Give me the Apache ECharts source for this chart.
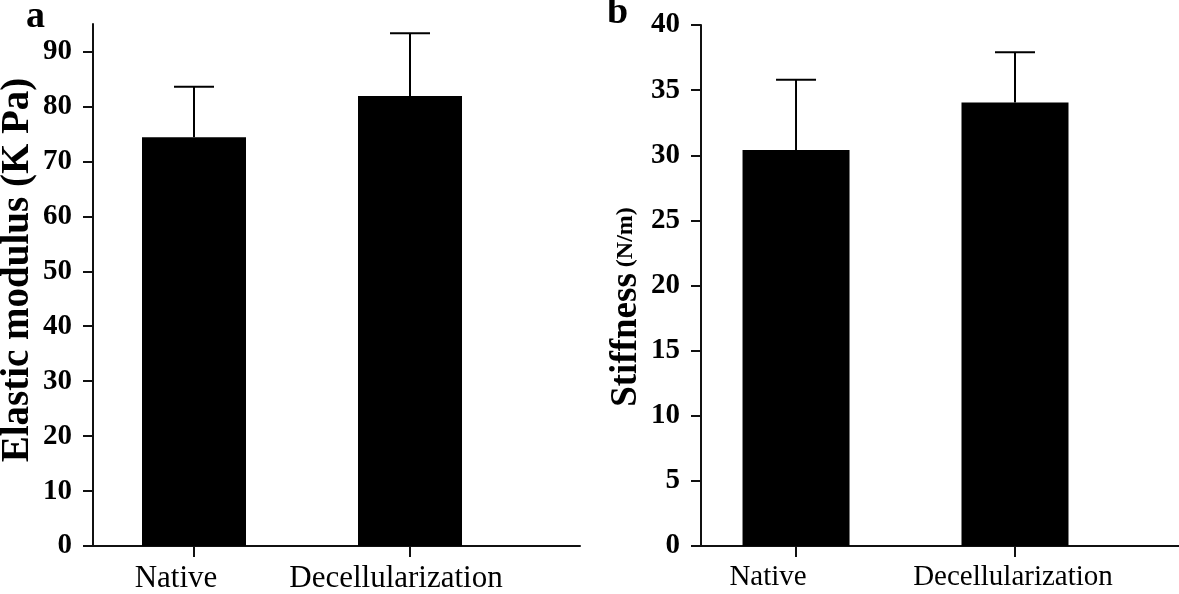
<!DOCTYPE html>
<html>
<head>
<meta charset="utf-8">
<script src="https://cdn.jsdelivr.net/npm/echarts@6/dist/echarts.min.js"></script>
<style>
html,body{margin:0;padding:0;background:#fff;}
#chart{width:1179px;height:594px;}
</style>
</head>
<body>
<div id="chart"></div>
<script>
// ---- data ----
const categories = ['Native', 'Decellularization'];
const elasticMean = [74.4, 81.9];
const elasticErr = [9.2, 11.4];
const stiffMean = [30.4, 34.05];
const stiffErr = [5.4, 3.85];
const elasticTicks = [0, 10, 20, 30, 40, 50, 60, 70, 80, 90];
const stiffTicks = [0, 5, 10, 15, 20, 25, 30, 35, 40];

const FONT = 'Liberation Serif';
const chart = echarts.init(document.getElementById('chart'), null, {renderer: 'canvas'});

function barData(means) { return means.map((m, i) => [i, m]); }
function errData(means, errs) { return means.map((m, i) => [i, m, m + errs[i]]); }

function errItem(params, api) {
  const x = api.value(0), m = api.value(1), t = api.value(2);
  const base = api.coord([x, m]);
  const top = api.coord([x, t]);
  const hw = 20;
  return {
    type: 'group',
    children: [
      {type: 'line', shape: {x1: base[0], y1: base[1], x2: top[0], y2: top[1]}, style: {stroke: '#000', lineWidth: 2}},
      {type: 'line', shape: {x1: top[0] - hw, y1: top[1], x2: top[0] + hw, y2: top[1]}, style: {stroke: '#000', lineWidth: 2}}
    ]
  };
}

const lineStyle = {color: '#111', width: 2};

function xAxisCfg(gridIndex, min, max, fontSize, richPads) {
  const rich = {};
  richPads.forEach((p, i) => {
    rich['c' + i] = {fontFamily: FONT, fontSize: fontSize, color: '#000', padding: p};
  });
  return {
    type: 'value', gridIndex: gridIndex, min: min, max: max,
    splitLine: {show: false},
    axisLine: {show: true, onZero: false, lineStyle: lineStyle},
    axisTick: {show: true, customValues: categories.map((c, i) => i), length: 11, lineStyle: lineStyle},
    axisLabel: {
      customValues: categories.map((c, i) => i),
      margin: 17,
      formatter: v => '{c' + Math.round(v) + '|' + categories[Math.round(v)] + '}',
      rich: rich
    }
  };
}

function yAxisCfg(gridIndex, max, ticks) {
  return {
    type: 'value', gridIndex: gridIndex, min: 0, max: max, interval: ticks[1] - ticks[0],
    splitLine: {show: false},
    axisLine: {show: true, onZero: false, lineStyle: lineStyle},
    axisTick: {show: true, customValues: ticks, length: 10, lineStyle: lineStyle},
    axisLabel: {
      customValues: ticks, margin: 21,
      fontFamily: FONT, fontWeight: 'bold', fontSize: 29, color: '#000'
    }
  };
}

const option = {
  backgroundColor: '#fff',
  animation: false,
  grid: [
    {left: 93, top: 24, width: 487, height: 522, outerBoundsMode: 'none'},
    {left: 701, top: 25, width: 478, height: 521, outerBoundsMode: 'none'}
  ],
  xAxis: [
    xAxisCfg(0, -0.4676, 1.787, 31, [[0, 36, 0, 0], [0, 28, 0, 0]]),
    xAxisCfg(1, -0.434, 1.749, 29, [[0, 56, 0, 0], [0, 4, 0, 0]])
  ],
  yAxis: [
    yAxisCfg(0, 95, elasticTicks),
    yAxisCfg(1, 40, stiffTicks)
  ],
  graphic: [
    {type: 'text', left: 26, top: -2, style: {text: 'a', font: 'bold 38px "' + FONT + '"', fill: '#000'}},
    {type: 'text', left: 607, top: -6, style: {text: 'b', font: 'bold 38px "' + FONT + '"', fill: '#000'}},
    {type: 'text', x: 18, y: 270, rotation: Math.PI / 2,
      style: {text: 'Elastic modulus (K Pa)', font: 'bold 39px "' + FONT + '"', fill: '#000', align: 'center', verticalAlign: 'middle'}},
    {type: 'text', x: 626, y: 307, rotation: Math.PI / 2,
      style: {
        text: '{a|Stiffness}{b| (N/m)}', align: 'center', verticalAlign: 'middle',
        rich: {
          a: {font: 'bold 37px "' + FONT + '"', fill: '#000'},
          b: {font: 'bold 24px "' + FONT + '"', fill: '#000'}
        }
      }}
  ],
  series: [
    {type: 'bar', xAxisIndex: 0, yAxisIndex: 0, data: barData(elasticMean), barWidth: 104,
      itemStyle: {color: '#000'}, z: 2},
    {type: 'custom', xAxisIndex: 0, yAxisIndex: 0, data: errData(elasticMean, elasticErr),
      renderItem: errItem, z: 3},
    {type: 'bar', xAxisIndex: 1, yAxisIndex: 1, data: barData(stiffMean), barWidth: 107,
      itemStyle: {color: '#000'}, z: 2},
    {type: 'custom', xAxisIndex: 1, yAxisIndex: 1, data: errData(stiffMean, stiffErr),
      renderItem: errItem, z: 3}
  ]
};
chart.setOption(option);
</script>
</body>
</html>
